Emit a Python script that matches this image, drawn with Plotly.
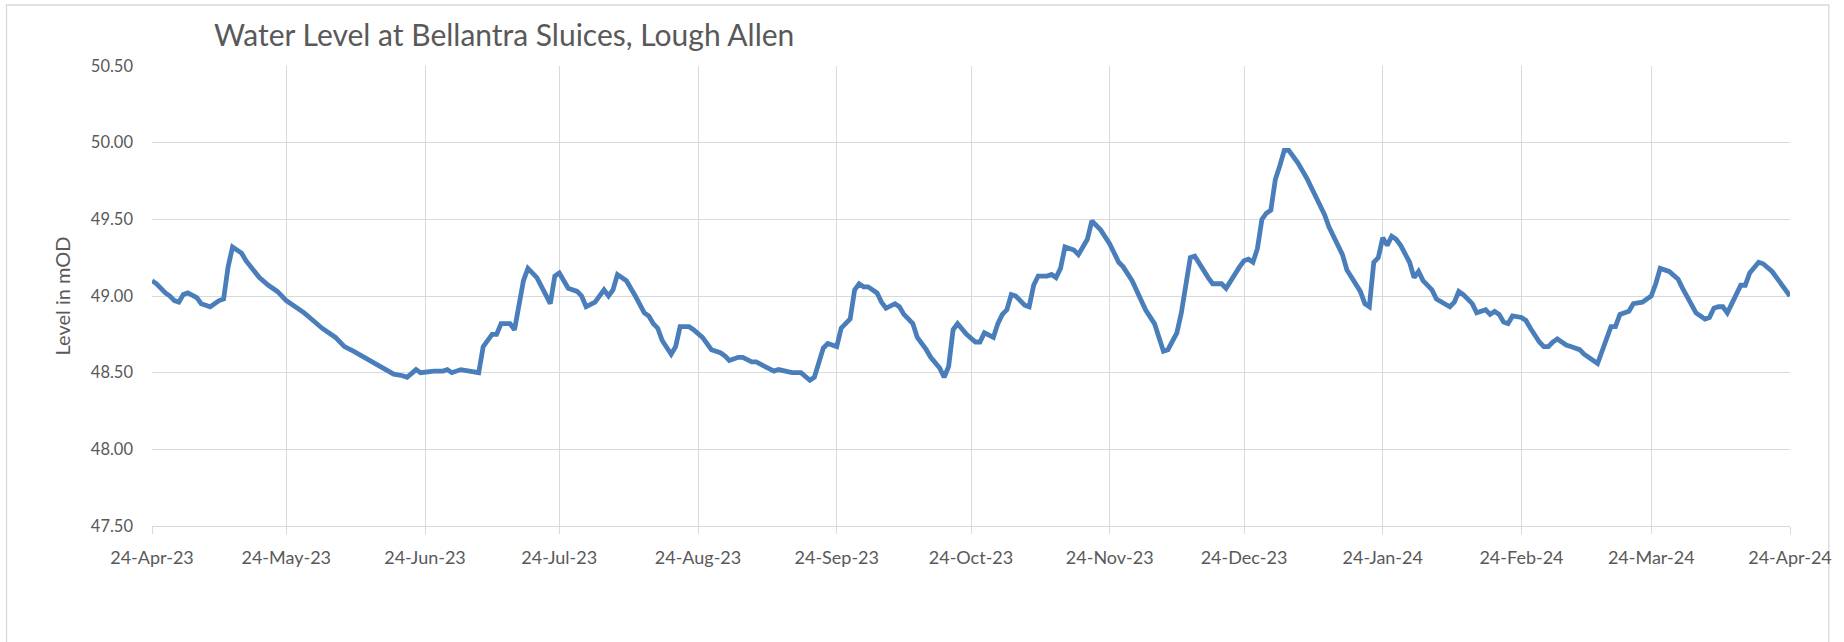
import pandas as pd
import plotly.graph_objects as go

# Daily water level readings (m OD), keyed by days since 24-Apr-2023
start_date = "2023-04-24"
day_offset = [
    0, 1, 3, 4, 5, 6, 7, 8, 10, 11, 13, 15, 16, 17, 18, 20, 21, 23, 24, 26,
    28, 30, 32, 34, 36, 38, 41, 43, 45, 48, 50, 52, 54, 56, 57, 59, 60, 63, 65, 66,
    67, 69, 71, 73, 74, 76, 77, 78, 80, 81, 83, 84, 86, 88, 89, 90, 91, 93, 95, 96,
    97, 99, 101, 102, 103, 104, 106, 108, 110, 111, 112, 113, 114, 116, 117, 118, 120, 121, 123, 125,
    127, 128, 129, 131, 132, 134, 135, 137, 139, 140, 143, 145, 146, 147, 148, 150, 151, 153, 154, 156,
    157, 158, 159, 160, 162, 163, 164, 166, 167, 168, 170, 171, 173, 174, 176, 177, 178, 179, 180, 182,
    184, 185, 186, 188, 189, 190, 191, 192, 193, 195, 196, 197, 198, 200, 201, 202, 203, 204, 206, 207,
    209, 210, 212, 214, 216, 217, 219, 220, 222, 224, 225, 226, 227, 229, 230, 231, 232, 233, 234, 236,
    237, 239, 240, 242, 243, 244, 245, 246, 247, 248, 249, 250, 251, 252, 253, 254, 255, 256, 258, 260,
    262, 263, 265, 266, 267, 268, 270, 271, 272, 273, 274, 275, 276, 277, 278, 279, 280, 281, 282, 283,
    284, 286, 287, 289, 290, 291, 292, 293, 295, 296, 298, 299, 300, 301, 302, 303, 304, 306, 307, 308,
    310, 311, 312, 313, 314, 315, 316, 317, 319, 320, 322, 323, 324, 325, 326, 327, 328, 330, 331, 333,
    334, 335, 336, 337, 339, 341, 342, 344, 345, 347, 348, 349, 350, 351, 352, 353, 354, 355, 356, 357,
    359, 360, 362, 364, 366,
]
level = [
    49.10, 49.08, 49.02, 49.00, 48.97, 48.96, 49.01, 49.02, 48.99, 48.95, 48.93, 48.97, 48.98, 49.19, 49.32, 49.28, 49.23, 49.16, 49.12, 49.07,
    49.03, 48.97, 48.93, 48.89, 48.84, 48.79, 48.73, 48.67, 48.64, 48.59, 48.56, 48.52, 48.49, 48.48, 48.47, 48.52, 48.50, 48.51, 48.51, 48.52,
    48.50, 48.52, 48.51, 48.50, 48.67, 48.75, 48.75, 48.82, 48.82, 48.78, 49.10, 49.18, 49.12, 49.00, 48.95, 49.13, 49.15, 49.05, 49.03, 49.00,
    48.93, 48.96, 49.04, 49.00, 49.04, 49.14, 49.10, 49.00, 48.89, 48.87, 48.82, 48.79, 48.71, 48.62, 48.67, 48.80, 48.80, 48.78, 48.73, 48.65,
    48.63, 48.61, 48.58, 48.60, 48.60, 48.57, 48.57, 48.54, 48.51, 48.52, 48.50, 48.50, 48.47, 48.45, 48.47, 48.66, 48.69, 48.67, 48.79, 48.85,
    49.04, 49.08, 49.06, 49.06, 49.02, 48.96, 48.92, 48.95, 48.93, 48.88, 48.82, 48.73, 48.65, 48.60, 48.53, 48.47, 48.54, 48.78, 48.82, 48.75,
    48.70, 48.70, 48.76, 48.73, 48.82, 48.88, 48.91, 49.01, 49.00, 48.94, 48.93, 49.07, 49.13, 49.13, 49.14, 49.12, 49.18, 49.32, 49.30, 49.27,
    49.37, 49.49, 49.43, 49.34, 49.22, 49.19, 49.10, 49.03, 48.91, 48.82, 48.72, 48.64, 48.65, 48.76, 48.89, 49.05, 49.25, 49.26, 49.21, 49.12,
    49.08, 49.08, 49.05, 49.15, 49.19, 49.23, 49.24, 49.22, 49.31, 49.50, 49.54, 49.56, 49.76, 49.85, 49.95, 49.95, 49.91, 49.87, 49.77, 49.65,
    49.53, 49.45, 49.33, 49.27, 49.17, 49.12, 49.03, 48.95, 48.93, 49.22, 49.25, 49.38, 49.33, 49.39, 49.37, 49.33, 49.28, 49.22, 49.12, 49.16,
    49.10, 49.04, 48.98, 48.95, 48.93, 48.96, 49.03, 49.01, 48.95, 48.89, 48.91, 48.88, 48.90, 48.88, 48.83, 48.82, 48.87, 48.86, 48.84, 48.79,
    48.70, 48.67, 48.67, 48.70, 48.72, 48.70, 48.68, 48.67, 48.65, 48.62, 48.58, 48.56, 48.64, 48.71, 48.80, 48.80, 48.88, 48.90, 48.95, 48.96,
    48.98, 49.00, 49.08, 49.18, 49.16, 49.11, 49.05, 48.95, 48.89, 48.85, 48.86, 48.92, 48.93, 48.93, 48.89, 48.95, 49.02, 49.07, 49.07, 49.15,
    49.22, 49.21, 49.16, 49.08, 49.00,
]

# Monthly date ticks on the 24th
tick_dates = [
    "2023-04-24", "2023-05-24", "2023-06-24", "2023-07-24", "2023-08-24",
    "2023-09-24", "2023-10-24", "2023-11-24", "2023-12-24", "2024-01-24",
    "2024-02-24", "2024-03-24", "2024-04-24",
]
y_ticks = [47.5, 48.0, 48.5, 49.0, 49.5, 50.0, 50.5]

dates = pd.Timestamp(start_date) + pd.to_timedelta(day_offset, unit="D")

W, H = 1844, 642
ML, MR, MT, MB = 152, 48, 66, 116
plot_w = W - ML - MR
plot_h = H - MT - MB

def px_to_paper_x(px):
    return (px - ML) / plot_w

def px_to_paper_y(py):
    return (H - MB - py) / plot_h

grid = "#d9d9d9"
text_col = "#595959"
font_family = "Lato, Carlito, 'Open Sans', sans-serif"

fig = go.Figure()
fig.add_trace(go.Scatter(
    x=dates, y=level, mode="lines",
    line=dict(color="#4a7ebb", width=4.8),
    hoverinfo="x+y", showlegend=False,
))

fig.update_layout(
    width=W, height=H,
    margin=dict(l=ML, r=MR, t=MT, b=MB, pad=0),
    paper_bgcolor="white", plot_bgcolor="white",
    font=dict(family=font_family, color=text_col, size=18),
    title=dict(
        text="Water Level at Bellantra Sluices, Lough Allen",
        font=dict(family=font_family, size=30, color=text_col),
        xref="container", yref="container",
        x=214 / W, xanchor="left",
        y=1 - 35 / H, yanchor="middle",
    ),
    xaxis=dict(
        type="date",
        range=[tick_dates[0], tick_dates[-1]],
        tickvals=tick_dates,
        tickformat="%d-%b-%y",
        showgrid=True, gridcolor=grid, gridwidth=1.3,
        showline=True, linecolor=grid, linewidth=1.3,
        ticks="outside", ticklen=7, tickcolor=grid, tickwidth=1.3,
        tickfont=dict(size=18, color=text_col),
        ticklabelstandoff=8,
        zeroline=False,
        fixedrange=True,
    ),
    yaxis=dict(
        range=[47.5, 50.5],
        tickvals=y_ticks,
        tickformat=".2f",
        showgrid=True, gridcolor=grid, gridwidth=1.3,
        showline=False, zeroline=False,
        ticks="",
        tickfont=dict(size=16.5, color=text_col),
        ticklabelstandoff=18,
        title=dict(text="Level in mOD", font=dict(size=20, color=text_col), standoff=14),
        fixedrange=True,
    ),
    shapes=[
        dict(
            type="rect", xref="paper", yref="paper",
            x0=px_to_paper_x(6), x1=px_to_paper_x(1835),
            y0=px_to_paper_y(660), y1=px_to_paper_y(5),
            line=dict(color=grid, width=1.3), fillcolor="rgba(0,0,0,0)",
            layer="below",
        )
    ],
)

fig.write_html("out.html")
